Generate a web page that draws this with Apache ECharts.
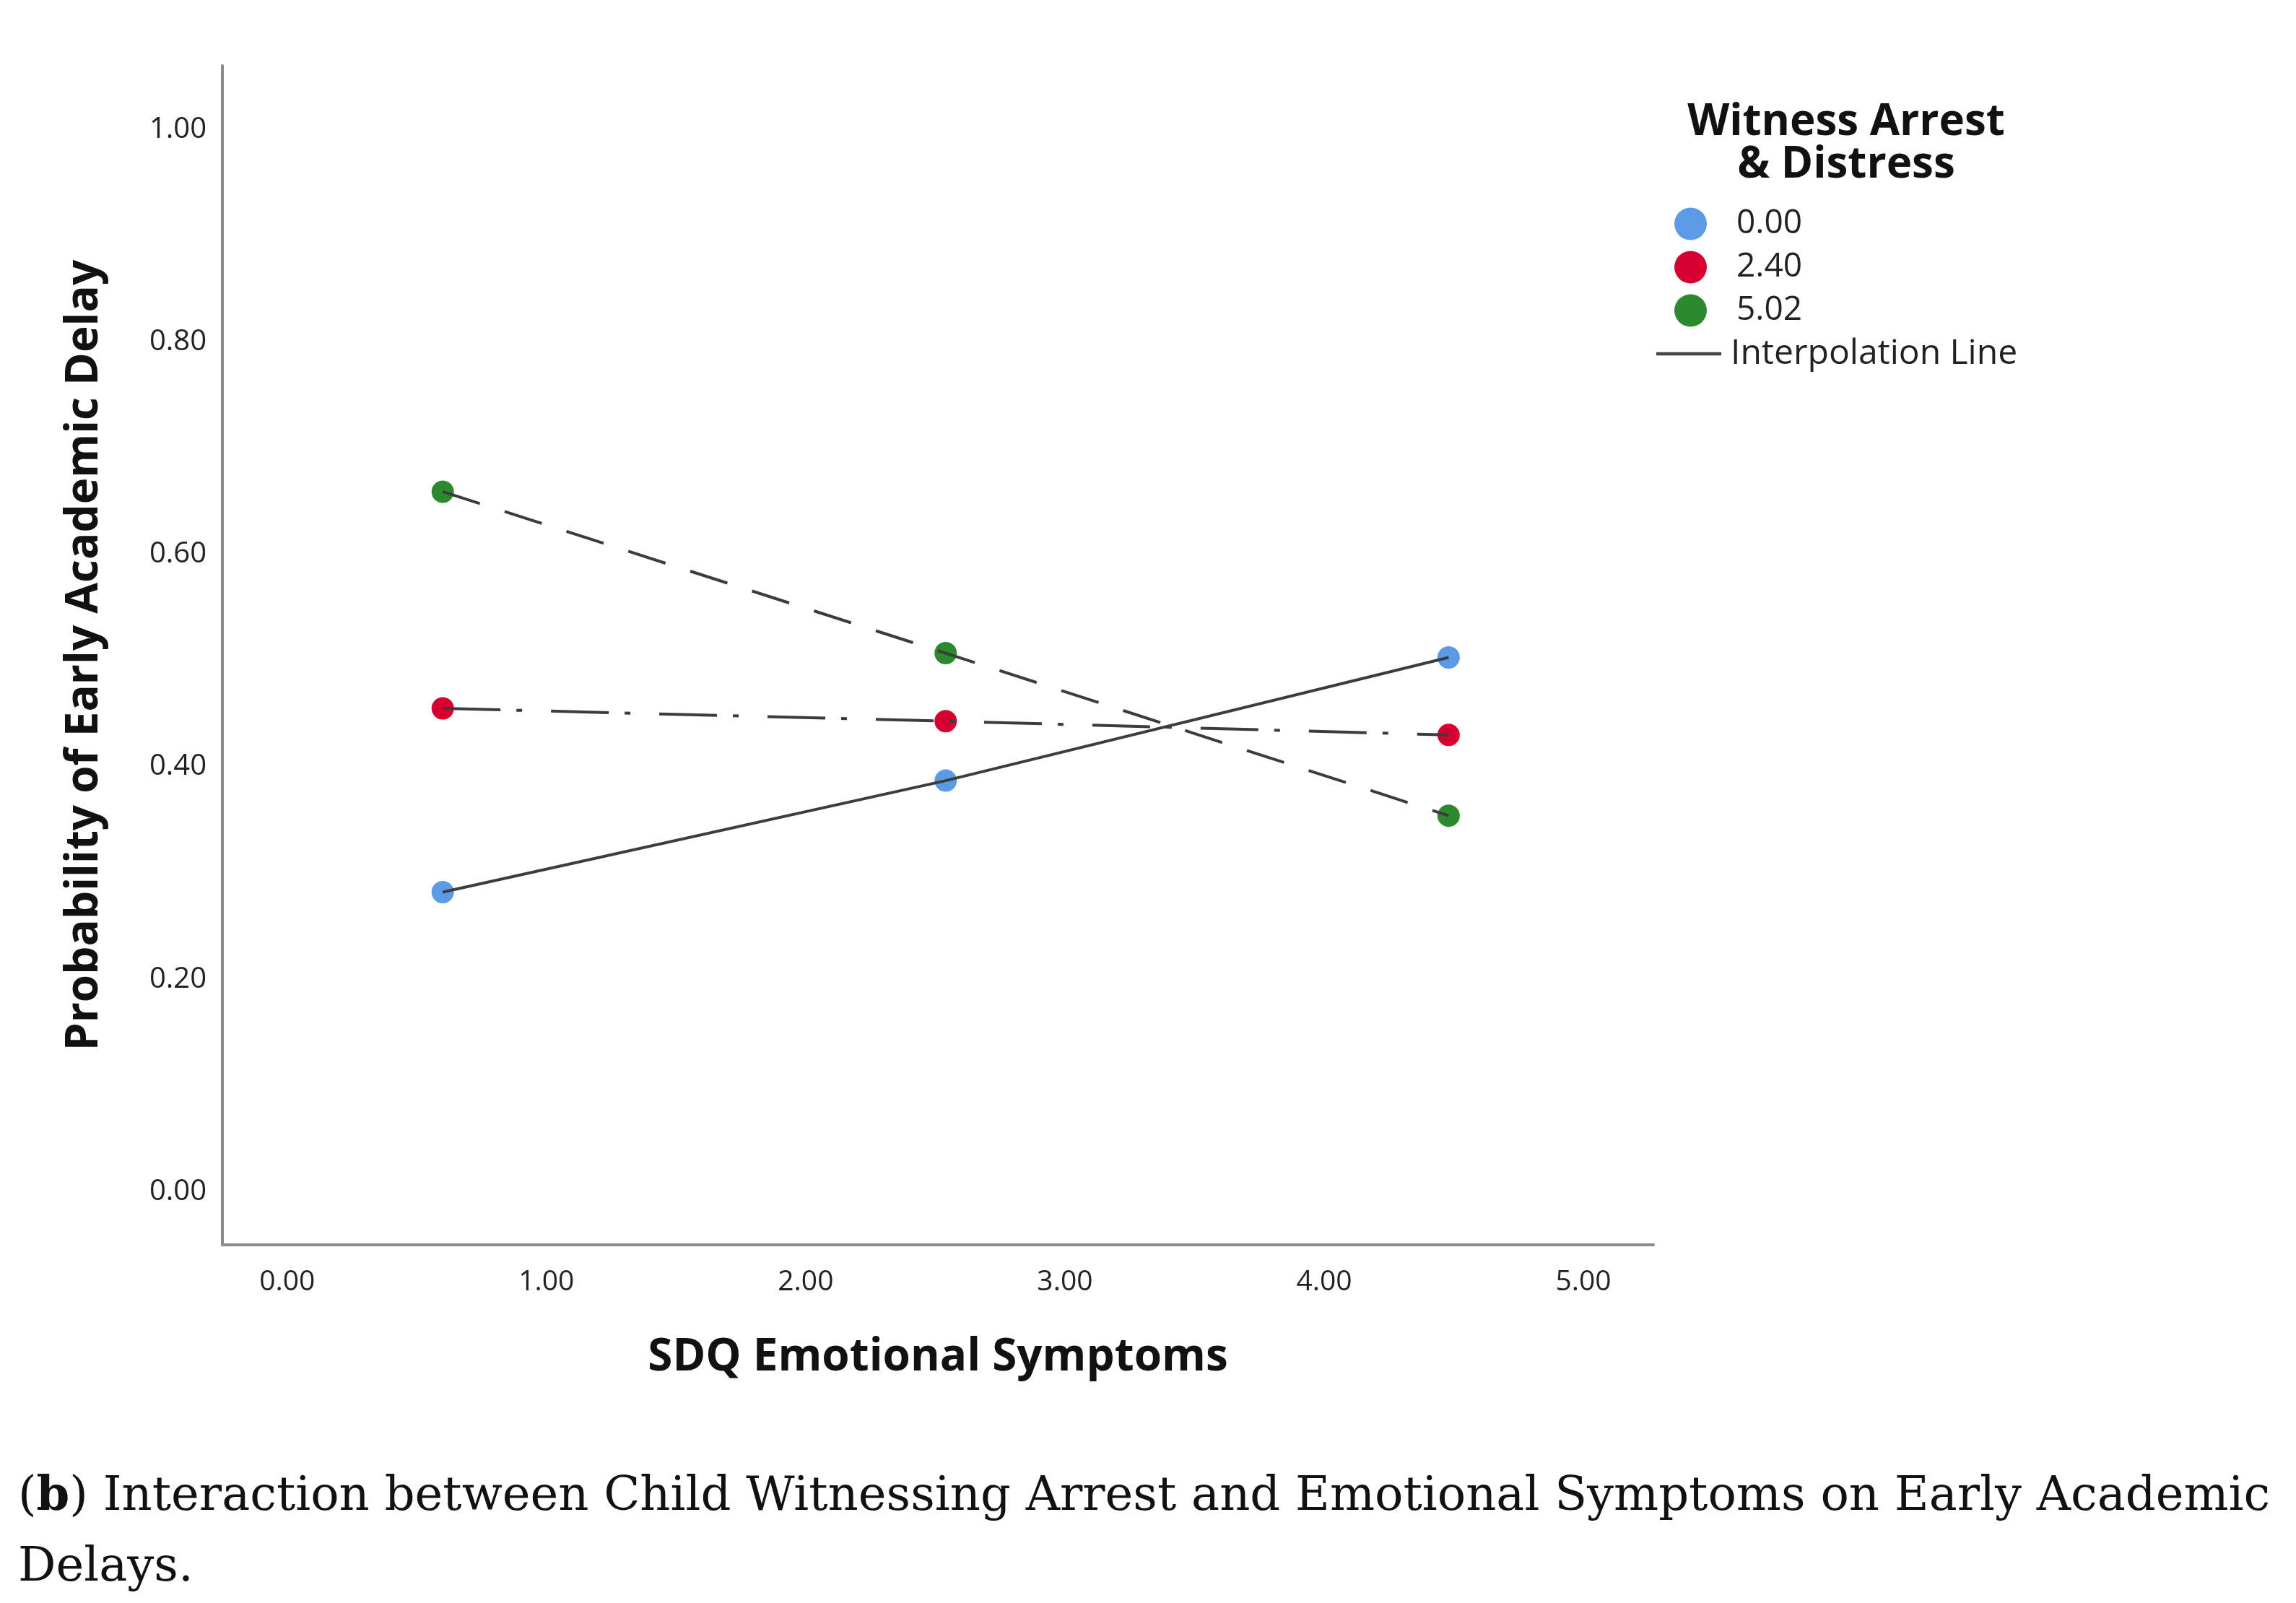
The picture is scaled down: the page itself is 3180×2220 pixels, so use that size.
<!DOCTYPE html>
<html>
<head>
<meta charset="utf-8">
<script src="https://cdn.jsdelivr.net/npm/echarts@6/dist/echarts.min.js"></script>
<style>
html,body{margin:0;padding:0;background:#fff;}
#chart{width:3180px;height:2220px;}
</style>
</head>
<body>
<div id="chart"></div>
<script>
// ---- data ----
const sdqX = [0.60, 2.54, 4.48];
const groupNames = ['0.00', '2.40', '5.02'];
const probLow = [0.282, 0.387, 0.503];   // Witness Arrest & Distress = 0.00
const probMid = [0.455, 0.443, 0.430];   // 2.40
const probHigh = [0.659, 0.507, 0.354];  // 5.02
const xTicks = [0, 1, 2, 3, 4, 5];
const yTicks = [0, 0.2, 0.4, 0.6, 0.8, 1.0];

const colors = ['#5b9be6', '#d5002f', '#2b8a2e'];
const dashes = ['solid', [80, 22, 8, 40], [54, 36]];
const seriesVals = [probLow, probMid, probHigh];

const pairs = v => sdqX.map((x, i) => [x, v[i]]);

const series = [];
seriesVals.forEach((v, k) => {
  series.push({
    name: 'Interpolation Line',
    type: 'line',
    data: pairs(v),
    showSymbol: false,
    symbol: 'none',
    z: 5,
    color: '#444',
    itemStyle: {color: '#444'},
    lineStyle: {color: '#3c3c3c', width: 4, type: dashes[k]},
    animation: false
  });
});
seriesVals.forEach((v, k) => {
  series.push({
    name: groupNames[k],
    type: 'scatter',
    data: pairs(v),
    symbol: 'circle',
    symbolSize: 31,
    z: 3,
    itemStyle: {color: colors[k], opacity: 1},
    animation: false
  });
});

const chart = echarts.init(document.getElementById('chart'), null, {renderer: 'canvas'});
chart.setOption({
  backgroundColor: '#ffffff',
  animation: false,
  grid: {left: 308, right: 890, top: 91, bottom: 496},
  title: [
    {
      text: 'Witness Arrest\n& Distress',
      left: 2552, top: 135, textAlign: 'center',
      textStyle: {fontFamily: 'Open Sans', fontWeight: 'bold', fontSize: 60, lineHeight: 59, color: '#111', align: 'center'}
    },
    {
      text: '({b|b}) Interaction between Child Witnessing Arrest and Emotional Symptoms on Early Academic\nDelays.',
      left: 20, top: 2020,
      textStyle: {
        fontFamily: 'DejaVu Serif', fontWeight: 'normal', fontSize: 65.5, lineHeight: 98, color: '#111',
        rich: {b: {fontFamily: 'DejaVu Serif', fontWeight: 'bold', fontSize: 65.5, lineHeight: 98, color: '#111'}}
      }
    }
  ],
  legend: [
    {
      data: groupNames,
      orient: 'vertical',
      left: 2314, top: 282,
      itemWidth: 45, itemHeight: 45, itemGap: 14,
      icon: 'circle',
      selectedMode: false,
      textStyle: {fontFamily: 'Open Sans', fontSize: 46, color: '#222', padding: [0, 0, 0, 36]}
    },
    {
      data: [{name: 'Interpolation Line', icon: 'path://M0,0H100V5H0Z'}],
      orient: 'vertical',
      left: 2289, top: 461,
      itemWidth: 90, itemHeight: 5,
      selectedMode: false,
      itemStyle: {color: '#444'},
      textStyle: {fontFamily: 'Open Sans', fontSize: 48, color: '#222', padding: [0, 0, 0, 8]}
    }
  ],
  xAxis: {
    type: 'value',
    min: -0.25, max: 5.27,
    name: 'SDQ Emotional Symptoms',
    nameLocation: 'middle',
    nameGap: 125,
    nameTextStyle: {fontFamily: 'Open Sans', fontWeight: 'bold', fontSize: 62, color: '#111'},
    axisLine: {show: true, onZero: false, lineStyle: {color: '#8a8a8a', width: 4}},
    axisTick: {show: false},
    splitLine: {show: false},
    axisLabel: {
      customValues: xTicks,
      formatter: v => v.toFixed(2),
      margin: 32,
      fontFamily: 'Open Sans', fontSize: 39, color: '#222'
    }
  },
  yAxis: {
    type: 'value',
    min: -0.05, max: 1.06,
    name: 'Probability of Early Academic Delay',
    nameLocation: 'middle',
    nameRotate: 90,
    nameGap: 160,
    nameTextStyle: {fontFamily: 'Open Sans', fontWeight: 'bold', fontSize: 62, color: '#111'},
    axisLine: {show: true, onZero: false, lineStyle: {color: '#8a8a8a', width: 4}},
    axisTick: {show: false},
    splitLine: {show: false},
    axisLabel: {
      customValues: yTicks,
      formatter: v => v.toFixed(2),
      margin: 22,
      fontFamily: 'Open Sans', fontSize: 40, color: '#222'
    }
  },
  series: series
});
</script>
</body>
</html>
